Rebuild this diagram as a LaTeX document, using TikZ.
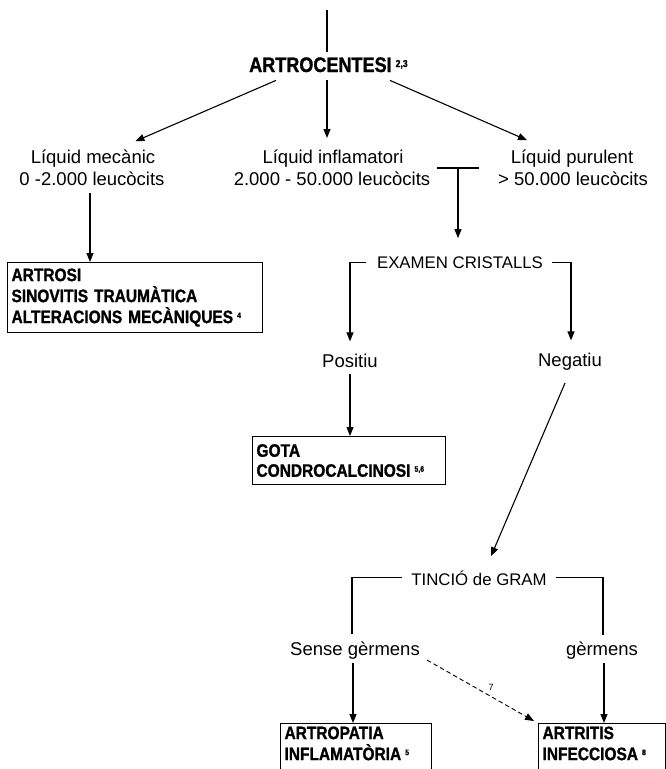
\documentclass[tikz,border=0pt]{standalone}
\usepackage{fontspec}
\setmainfont{Liberation Sans}
\newfontfamily\heavyfont{Liberation Sans}[FakeStretch=0.86, BoldFeatures={FakeBold=1.2}]
\usetikzlibrary{arrows.meta,calc}
\newcommand{\refnum}[2][8]{\hspace{4pt}{\fontsize{#1}{#1}\selectfont\raisebox{5pt}{#2}}}
\begin{document}
\begin{tikzpicture}[x=1pt,y=-1pt,
  every node/.style={inner sep=0pt},
  lab/.style={font=\fontsize{18.5}{23}\selectfont, anchor=base},
  caps/.style={font=\fontsize{16.8}{20}\selectfont, anchor=base},
  ln/.style={line width=1.1pt},
  arr/.style={line width=1.1pt, -{Triangle[length=9pt,width=7pt]}},
  dasharr/.style={line width=0.9pt, dash pattern=on 4.5pt off 3pt, -{Triangle[length=9pt,width=7pt]}},
  result/.style={draw, line width=1.1pt, anchor=north west, align=left,
    inner xsep=4pt, inner ysep=6pt,
    font=\heavyfont\bfseries\fontsize{18}{21}\selectfont}]
\useasboundingbox (0,0) rectangle (666,769);
\clip (0,0) rectangle (666,769);

% title
\node[anchor=base west, font=\heavyfont\bfseries\fontsize{21}{24}\selectfont] (art) at (249,72)
  {ARTROCENTESI\refnum[10]{2,3}};
\coordinate (top) at (327,10);

% synovial fluid types
\node[lab] (mecA) at (93,163) {Líquid mecànic};
\node[lab] (mecB) at (92,185) {0 -2.000 leucòcits};
\node[lab] (infA) at (333,163) {Líquid inflamatori};
\node[lab] (infB) at (332,185) {2.000 - 50.000 leucòcits};
\node[lab] (purA) at (572,163) {Líquid purulent};
\node[lab] (purB) at (573,185) {> 50.000 leucòcits};

% crystal examination
\node[caps] (exam) at (460,268) {EXAMEN CRISTALLS};
\node[lab] (pos) at (350,367) {Positiu};
\node[lab] (neg) at (570,366) {Negatiu};

% Gram stain
\node[caps] (gram) at (479,585) {TINCIÓ de GRAM};
\node[lab] (sense) at (355,655) {Sense gèrmens};
\node[lab] (germ) at (602,655) {gèrmens};

% diagnoses
\node[result, text width=247pt, minimum height=70pt] (mech) at (7,262)
  {ARTROSI\\SINOVITIS TRAUMÀTICA\\ALTERACIONS MECÀNIQUES\refnum{4}};
\node[result, text width=185pt, minimum height=48pt,
  font=\heavyfont\bfseries\fontsize{18}{20}\selectfont] (gota) at (252,436)
  {GOTA\\CONDROCALCINOSI\refnum{5,6}};
% the two lower boxes run on past the bottom edge
\node[result, text width=143pt, inner ysep=3pt] (inflam) at (280,723)
  {ARTROPATIA\\INFLAMATÒRIA\refnum{5}\\\mbox{}\\\mbox{}};
\node[result, text width=119pt, inner ysep=3pt] (infec) at (538,723)
  {ARTRITIS\\INFECCIOSA\refnum{8}\\\mbox{}\\\mbox{}};

% connectors
\draw[ln] (top) -- (top |- 0,52);
\draw[arr] ($(art.south west)+(27,8)$) -- ($(mecA.north east)+(-20,-8)$);
\draw[arr] (top |- 0,80) -- (top |- 0,138);
\draw[arr] ($(art.south west)+(141,8)$) -- ($(purA.north)+(-45,-9)$);

\draw[arr] (mecB.south -| 90,0) ++(0,8) -- (mech.north -| 90,0);

\coordinate (tbar) at (458,168);
\draw[ln] ($(tbar)+(-21,0)$) -- ($(tbar)+(21,0)$);
\draw[arr] (tbar) -- ($(exam.north -| tbar)+(0,-18)$);
\draw[arr] ($(exam.west)+(-11,0)$) -| ($(pos.north)+(0,-12)$);
\draw[arr] ($(exam.east)+(9,0)$) -| ($(neg.north)+(1,-12)$);

\draw[arr] ($(pos.south)+(0,7)$) -- (gota.north -| pos);
\draw[arr] ($(neg.south)+(-5,13)$) -- ($(gram.north)+(12,-14)$);

\draw[ln] ($(gram.west)+(-9,0)$) -| ($(sense.north)+(-3,-7)$);
\draw[ln] ($(gram.east)+(9,0)$) -| ($(germ.north)+(1,-6)$);
\draw[arr] ($(sense.south)+(-2,4)$) -- (inflam.north -| 353,0);
\draw[arr] ($(germ.south)+(2,4)$) -- (infec.north -| 604,0);
\draw[dasharr] ($(sense.south east)+(7,1)$) -- ($(infec.north west)+(-4,-2)$)
  node[pos=0.6, above=6pt, font=\fontsize{9}{9}\selectfont] (seven) {7};
\end{tikzpicture}
\end{document}
